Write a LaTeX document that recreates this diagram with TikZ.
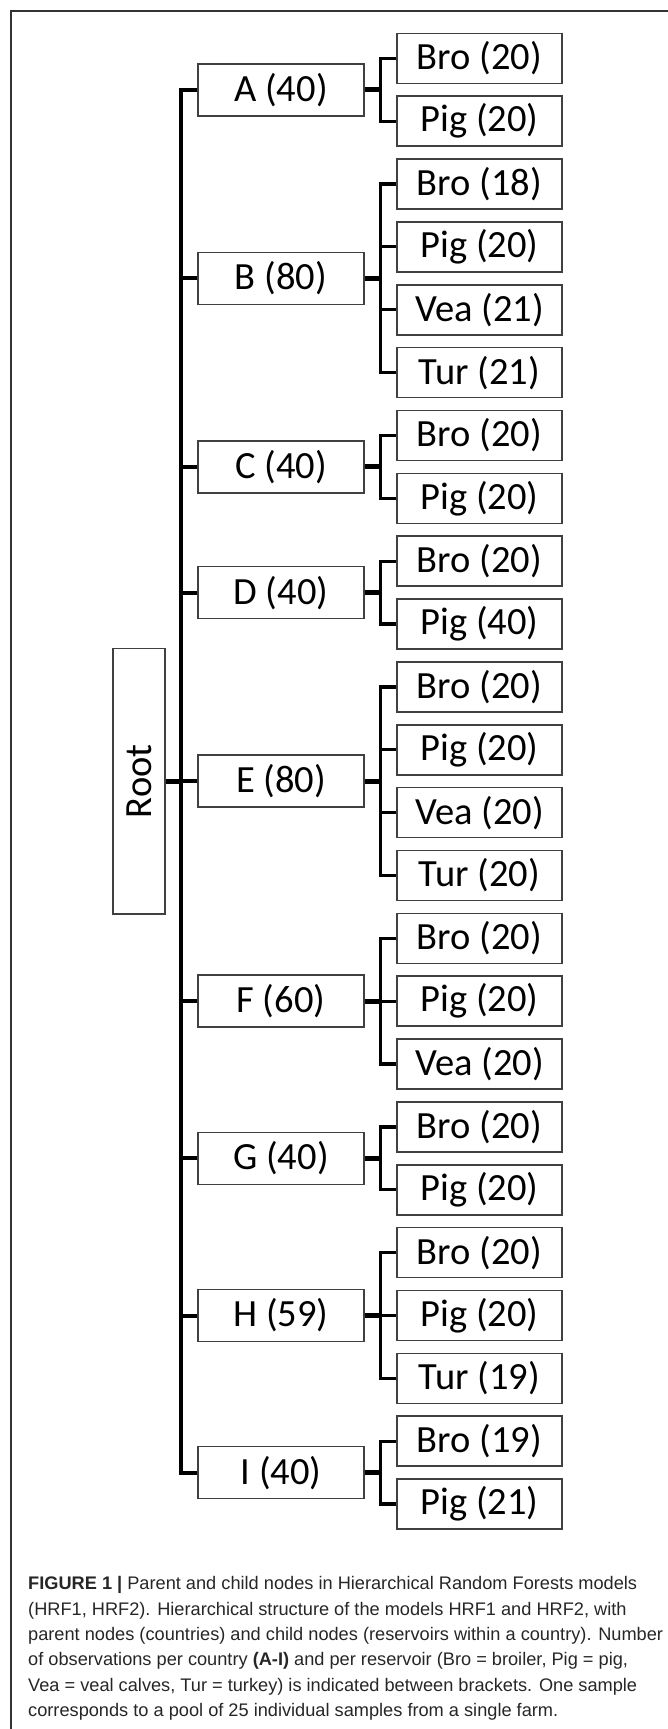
\documentclass[tikz,border=0pt]{standalone}
\usepackage{fontspec}
\setmainfont{Carlito}
\newfontfamily\capfont{Liberation Sans}
\usepackage{graphicx}
\usetikzlibrary{positioning,calc}

\begin{document}
\begin{tikzpicture}[
      x=1pt, y=-1pt,
      node distance=11.26pt,
      box/.style={draw=black!75, line width=1.6pt, fill=white, inner sep=0pt, font=\fontsize{38.5}{40}\selectfont},
      leafbox/.style={box, minimum width=165pt, minimum height=50pt},
      ctrybox/.style={box, minimum width=166pt, minimum height=52pt},
      rootbox/.style={box, minimum width=52pt, minimum height=265pt},
      link/.style={line width=3.2pt},
      spine/.style={line width=4pt},
      stub/.style={line width=5pt},
      capstyle/.style={align=left, inner sep=0pt, text=black!85, font=\capfont\fontsize{18.2}{25.3}\selectfont}
    ]
    \useasboundingbox (0,0) rectangle (668,1729);
    \draw[line width=1.8pt, black!80] (11,1740) |- (680,11);

    % reservoirs (child nodes)
    \node[leafbox] (a1) at (479.5,58.3) {Bro (20)};
    \node[leafbox, below=of a1] (a2) {Pig (20)};
    \node[leafbox, below=of a2] (b1) {Bro (18)};
    \node[leafbox, below=of b1] (b2) {Pig (20)};
    \node[leafbox, below=of b2] (b3) {Vea (21)};
    \node[leafbox, below=of b3] (b4) {Tur (21)};
    \node[leafbox, below=of b4] (c1) {Bro (20)};
    \node[leafbox, below=of c1] (c2) {Pig (20)};
    \node[leafbox, below=of c2] (d1) {Bro (20)};
    \node[leafbox, below=of d1] (d2) {Pig (40)};
    \node[leafbox, below=of d2] (e1) {Bro (20)};
    \node[leafbox, below=of e1] (e2) {Pig (20)};
    \node[leafbox, below=of e2] (e3) {Vea (20)};
    \node[leafbox, below=of e3] (e4) {Tur (20)};
    \node[leafbox, below=of e4] (f1) {Bro (20)};
    \node[leafbox, below=of f1] (f2) {Pig (20)};
    \node[leafbox, below=of f2] (f3) {Vea (20)};
    \node[leafbox, below=of f3] (g1) {Bro (20)};
    \node[leafbox, below=of g1] (g2) {Pig (20)};
    \node[leafbox, below=of g2] (h1) {Bro (20)};
    \node[leafbox, below=of h1] (h2) {Pig (20)};
    \node[leafbox, below=of h2] (h3) {Tur (19)};
    \node[leafbox, below=of h3] (i1) {Bro (19)};
    \node[leafbox, below=of i1] (i2) {Pig (21)};

    % countries (parent nodes)
    \node[ctrybox] (A) at ($(a1)!0.5!(a2)+(-198.5,0)$) {A (40)};
    \node[ctrybox] (B) at ($(b1)!0.5!(b4)+(-198.5,0)$) {B (80)};
    \node[ctrybox] (C) at ($(c1)!0.5!(c2)+(-198.5,0)$) {C (40)};
    \node[ctrybox] (D) at ($(d1)!0.5!(d2)+(-198.5,0)$) {D (40)};
    \node[ctrybox] (E) at ($(e1)!0.5!(e4)+(-198.5,0)$) {E (80)};
    \node[ctrybox] (F) at ($(f1)!0.5!(f3)+(-198.5,0)$) {F (60)};
    \node[ctrybox] (G) at ($(g1)!0.5!(g2)+(-198.5,0)$) {G (40)};
    \node[ctrybox] (H) at ($(h1)!0.5!(h3)+(-198.5,0)$) {H (59)};
    \node[ctrybox] (I) at ($(i1)!0.5!(i2)+(-198.5,0)$) {I (40)};

    \node[rootbox] (root) at ($(E)+(-142,0)$) {\rotatebox{90}{Root}};

    % root to countries
    \draw[spine] (root.east) -- ++(15.5,0) |- (A.west);
    \draw[spine] (root.east) -- ++(15.5,0) |- (B.west);
    \draw[spine] (root.east) -- ++(15.5,0) |- (C.west);
    \draw[spine] (root.east) -- ++(15.5,0) |- (D.west);
    \draw[spine] (root.east) -- ++(15.5,0) |- (E.west);
    \draw[spine] (root.east) -- ++(15.5,0) |- (F.west);
    \draw[spine] (root.east) -- ++(15.5,0) |- (G.west);
    \draw[spine] (root.east) -- ++(15.5,0) |- (H.west);
    \draw[spine] (root.east) -- ++(15.5,0) |- (I.west);
    \draw[stub] (root.east) -- ++(15.5,0);

    % countries to reservoirs
    \draw[link] (A.east) -- ++(16,0) |- (a1.west);
    \draw[link] (A.east) -- ++(16,0) |- (a2.west);
    \draw[link] (B.east) -- ++(16,0) |- (b1.west);
    \draw[link] (B.east) -- ++(16,0) |- (b2.west);
    \draw[link] (B.east) -- ++(16,0) |- (b3.west);
    \draw[link] (B.east) -- ++(16,0) |- (b4.west);
    \draw[link] (C.east) -- ++(16,0) |- (c1.west);
    \draw[link] (C.east) -- ++(16,0) |- (c2.west);
    \draw[link] (D.east) -- ++(16,0) |- (d1.west);
    \draw[link] (D.east) -- ++(16,0) |- (d2.west);
    \draw[link] (E.east) -- ++(16,0) |- (e1.west);
    \draw[link] (E.east) -- ++(16,0) |- (e2.west);
    \draw[link] (E.east) -- ++(16,0) |- (e3.west);
    \draw[link] (E.east) -- ++(16,0) |- (e4.west);
    \draw[link] (F.east) -- ++(16,0) |- (f1.west);
    \draw[link] (F.east) -- ++(16,0) |- (f2.west);
    \draw[link] (F.east) -- ++(16,0) |- (f3.west);
    \draw[link] (G.east) -- ++(16,0) |- (g1.west);
    \draw[link] (G.east) -- ++(16,0) |- (g2.west);
    \draw[link] (H.east) -- ++(16,0) |- (h1.west);
    \draw[link] (H.east) -- ++(16,0) |- (h2.west);
    \draw[link] (H.east) -- ++(16,0) |- (h3.west);
    \draw[link] (I.east) -- ++(16,0) |- (i1.west);
    \draw[link] (I.east) -- ++(16,0) |- (i2.west);
    \draw[stub] (A.east) -- ++(16,0);
    \draw[stub] (B.east) -- ++(16,0);
    \draw[stub] (C.east) -- ++(16,0);
    \draw[stub] (D.east) -- ++(16,0);
    \draw[stub] (E.east) -- ++(16,0);
    \draw[stub] (F.east) -- ++(16,0);
    \draw[stub] (G.east) -- ++(16,0);
    \draw[stub] (H.east) -- ++(16,0);
    \draw[stub] (I.east) -- ++(16,0);

    \node[capstyle, anchor=north west] (cap) at (28,1576.5) {\textbf{FIGURE 1 |} Parent and child nodes in Hierarchical Random Forests models\\
      (HRF1, HRF2). Hierarchical structure of the models HRF1 and HRF2, with\\
      parent nodes (countries) and child nodes (reservoirs within a country). Number\\
      of observations per country \textbf{(A-I)} and per reservoir (Bro = broiler, Pig = pig,\\
      Vea = veal calves, Tur = turkey) is indicated between brackets. One sample\\
      corresponds to a pool of 25 individual samples from a single farm.};
  \end{tikzpicture}
\end{document}
